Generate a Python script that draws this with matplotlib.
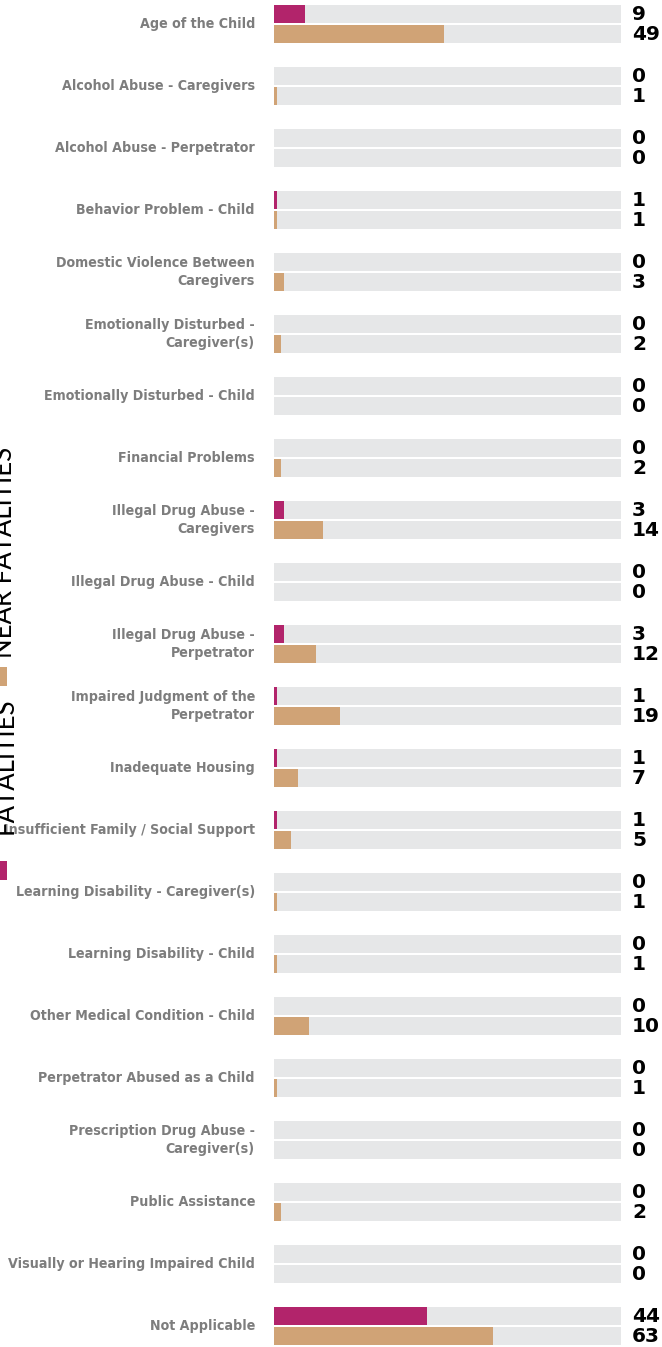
import matplotlib
matplotlib.use("Agg")
import matplotlib.pyplot as plt
import matplotlib.patches as mpatches
from matplotlib import font_manager
import numpy as np

# ── data ────────────────────────────────────────────────────────────────────

categories = [
    "Age of the Child",
    "Alcohol Abuse - Caregivers",
    "Alcohol Abuse - Perpetrator",
    "Behavior Problem - Child",
    "Domestic Violence Between\nCaregivers",
    "Emotionally Disturbed -\nCaregiver(s)",
    "Emotionally Disturbed - Child",
    "Financial Problems",
    "Illegal Drug Abuse -\nCaregivers",
    "Illegal Drug Abuse - Child",
    "Illegal Drug Abuse -\nPerpetrator",
    "Impaired Judgment of the\nPerpetrator",
    "Inadequate Housing",
    "Insufficient Family / Social Support",
    "Learning Disability - Caregiver(s)",
    "Learning Disability - Child",
    "Other Medical Condition - Child",
    "Perpetrator Abused as a Child",
    "Prescription Drug Abuse -\nCaregiver(s)",
    "Public Assistance",
    "Visually or Hearing Impaired Child",
    "Not Applicable",
]
fatalities = [9, 0, 0, 1, 0, 0, 0, 0, 3, 0, 3, 1, 1, 1, 0, 0, 0, 0, 0, 0, 0, 44]
near_fatalities = [49, 1, 0, 1, 3, 2, 0, 2, 14, 0, 12, 19, 7, 5, 1, 1, 10, 1, 0, 2, 0, 63]
scale_max = 100

FAT_COLOR = "#b2246b"
NEAR_COLOR = "#d0a376"
TRACK_COLOR = "#e6e7e8"
LABEL_COLOR = "#7d7d7d"

# pick a narrow face for the category labels if one is installed
narrow = None
for f in font_manager.fontManager.ttflist:
    if f.stretch in ("condensed", "semi-condensed", "extra-condensed") or \
            "Narrow" in f.name or "Condensed" in f.name:
        narrow = f
        break

if narrow is not None:
    label_props = dict(family=[narrow.name, "DejaVu Sans"],
                       fontstretch=narrow.stretch, fontsize=10.2,
                       fontweight="semibold")
else:
    label_props = dict(family=["Liberation Sans", "DejaVu Sans"],
                       fontsize=10.0, fontweight="bold")

# ── figure ──────────────────────────────────────────────────────────────────

W, H = 662, 1347
fig = plt.figure(figsize=(W / 100, H / 100), dpi=100)

ax_left, ax_right = 274, 621
ax = fig.add_axes([ax_left / W, 0, (ax_right - ax_left) / W, 1])

pitch = 62.0
first_center = 24.0
ax.set_ylim((H - first_center) / pitch, -first_center / pitch)
ax.set_xlim(0, scale_max)
ax.axis("off")

y = np.arange(len(categories))
bar_h = 18 / pitch
off = 10 / pitch

# grey tracks
ax.barh(y - off, scale_max, height=bar_h, color=TRACK_COLOR, linewidth=0)
ax.barh(y + off, scale_max, height=bar_h, color=TRACK_COLOR, linewidth=0)
# values
ax.barh(y - off, fatalities, height=bar_h, color=FAT_COLOR, linewidth=0)
ax.barh(y + off, near_fatalities, height=bar_h, color=NEAR_COLOR, linewidth=0)

px = scale_max / (ax_right - ax_left)
for i, (cat, f, n) in enumerate(zip(categories, fatalities, near_fatalities)):
    ax.text(-19 * px, i, cat, ha="right", va="center", color=LABEL_COLOR,
            linespacing=1.35, clip_on=False, **label_props)
    ax.text(scale_max + 11 * px, i - off, str(f), ha="left", va="center",
            fontsize=14.5, fontweight="heavy", color="black", clip_on=False)
    ax.text(scale_max + 11 * px, i + off, str(n), ha="left", va="center",
            fontsize=14.5, fontweight="heavy", color="black", clip_on=False)

# ── vertical legend on the left edge ────────────────────────────────────────

fig.patches.append(mpatches.Rectangle((0, 1 - 880 / H), 7 / W, 19 / H,
                                      transform=fig.transFigure,
                                      color=FAT_COLOR, linewidth=0))
fig.patches.append(mpatches.Rectangle((0, 1 - 686 / H), 7 / W, 19 / H,
                                      transform=fig.transFigure,
                                      color=NEAR_COLOR, linewidth=0))
legend_font = ["Lato", "DejaVu Sans"]
fig.text(5 / W, 1 - 766 / H, "FATALITIES", rotation=90, ha="center",
         va="center", fontsize=18.5, fontweight="normal", family=legend_font,
         color="black")
fig.text(5 / W, 1 - 552 / H, "NEAR FATALITIES", rotation=90, ha="center",
         va="center", fontsize=18.5, fontweight="normal", family=legend_font,
         color="black")

fig.savefig("out.png", dpi=100)
